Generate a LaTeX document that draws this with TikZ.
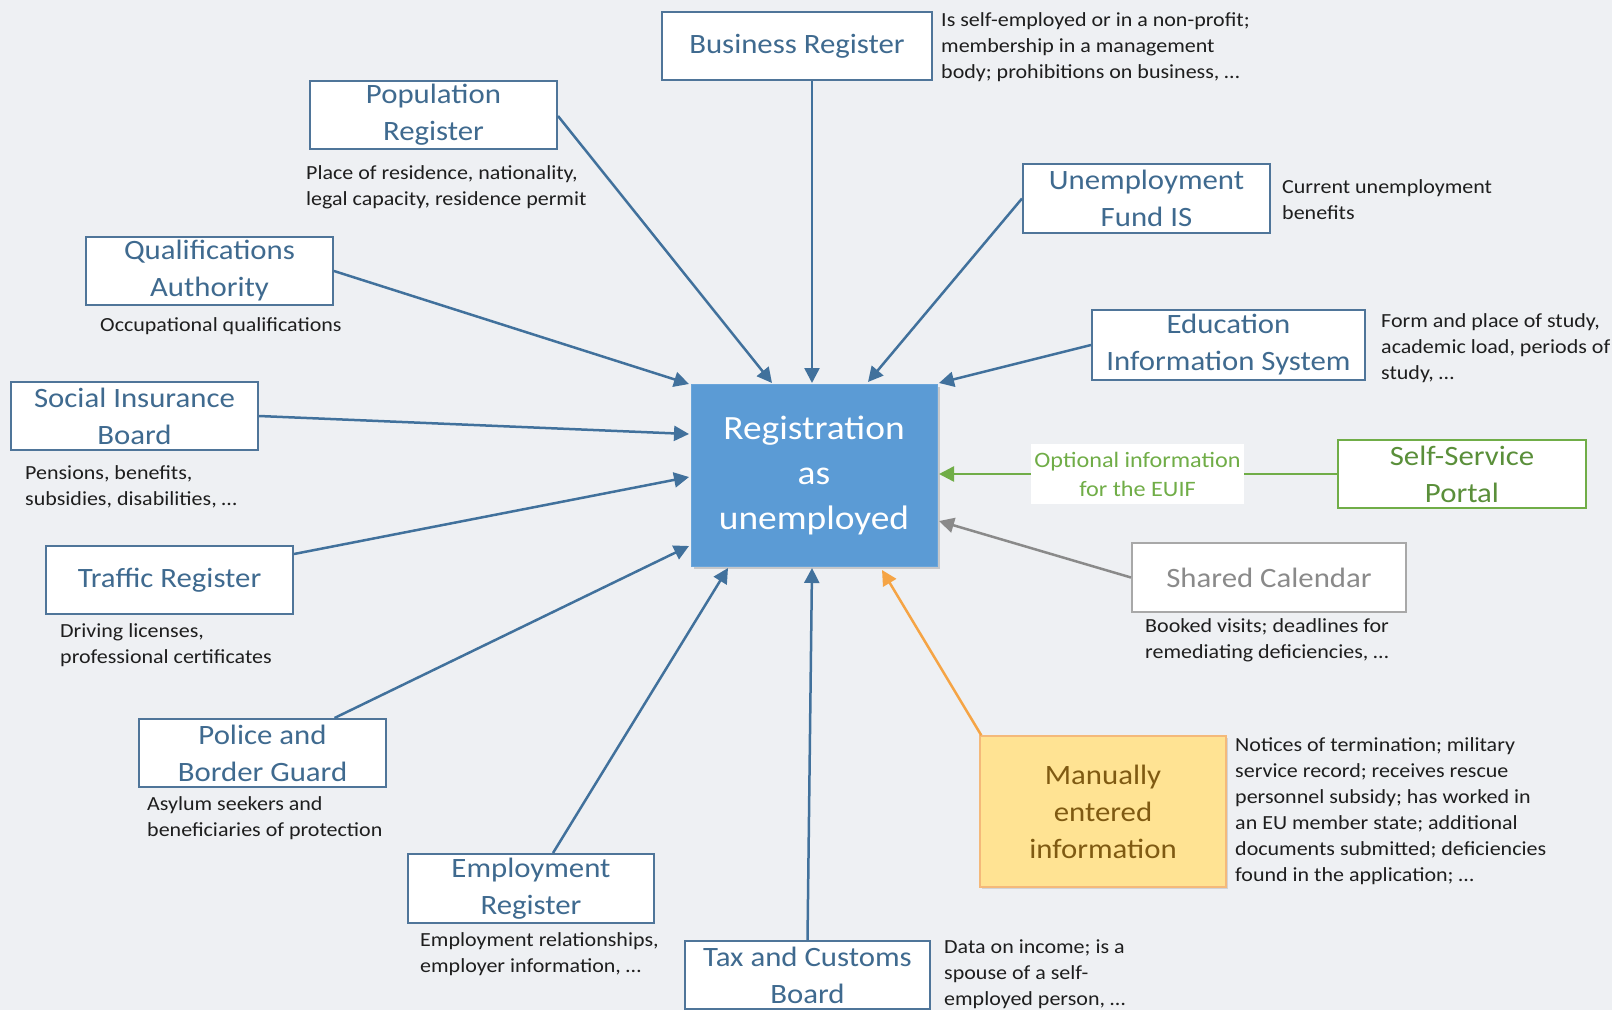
\documentclass[tikz,border=0pt]{standalone}
\usepackage{fontspec}
\setmainfont[FakeStretch=1.1]{Carlito}
\usetikzlibrary{arrows.meta,shadows}
\definecolor{bg}{HTML}{EEF0F3}
\definecolor{bxline}{HTML}{4F7599}
\definecolor{bxtext}{HTML}{3F6A8F}
\definecolor{conn}{HTML}{41719C}
\definecolor{cfill}{HTML}{5B9BD5}
\definecolor{cline}{HTML}{6AA5DA}
\definecolor{gline}{HTML}{70AD47}
\definecolor{gtext}{HTML}{5A8F3A}
\definecolor{gray1}{HTML}{8A8A8A}
\definecolor{gray2}{HTML}{A8A8A8}
\definecolor{oline}{HTML}{F5A445}
\definecolor{yfill}{HTML}{FFE393}
\definecolor{yline}{HTML}{F4B97A}
\definecolor{ytext}{HTML}{7F5A12}
\definecolor{dtext}{HTML}{1E1E1E}
\tikzset{
  srcbox/.style={draw=bxline, line width=2pt, fill=white, text=bxtext, align=center,
    inner sep=0pt, font=\fontsize{28}{37}\selectfont},
  desc/.style={anchor=north west, align=left, inner sep=0pt, text=dtext,
    font=\fontsize{20}{26}\selectfont},
  conarrow/.style={draw=conn, line width=2.5pt, -{Triangle[length=15pt,width=15pt]}},
}
\begin{document}
\begin{tikzpicture}[x=1pt,y=-1pt]
\useasboundingbox (0,0) rectangle (1612,1010);
\fill[bg] (0,0) rectangle (1612,1010);

% center
\node[draw=cline, line width=1pt, fill=cfill, text=white, align=center, inner sep=0pt,
  minimum width=246pt, minimum height=182pt, font=\fontsize{34}{45}\selectfont,
  drop shadow={shadow xshift=3pt, shadow yshift=-3pt, opacity=0.35}]
  (c) at (814,475) {Registration\\as\\unemployed};

% source boxes
\node[srcbox, minimum width=270pt, minimum height=68pt] (bus) at (797,46) {Business Register};
\node[srcbox, minimum width=247pt, minimum height=68pt] (pop) at (433.5,115) {Population\\Register};
\node[srcbox, minimum width=247pt, minimum height=68pt] (qua) at (209.5,271) {Qualifications\\Authority};
\node[srcbox, minimum width=247pt, minimum height=68pt] (soc) at (134.5,416) {Social Insurance\\Board};
\node[srcbox, minimum width=247pt, minimum height=68pt] (tra) at (169.5,580) {Traffic Register};
\node[srcbox, minimum width=247pt, minimum height=68pt] (pol) at (262.5,753) {Police and\\Border Guard};
\node[srcbox, minimum width=246pt, minimum height=69pt] (emp) at (531,888.5) {Employment\\Register};
\node[srcbox, minimum width=245pt, minimum height=68pt] (tax) at (807.5,975) {Tax and Customs\\Board};
\node[srcbox, minimum width=247pt, minimum height=69pt] (une) at (1146.5,198.5) {Unemployment\\Fund IS};
\node[srcbox, minimum width=273pt, minimum height=70pt] (edu) at (1228.5,345) {Education\\Information System};
\node[srcbox, draw=gline, text=gtext, minimum width=248pt, minimum height=68pt] (ssp) at (1462,474) {Self-Service\\Portal};
\node[srcbox, draw=gray2, text=gray1, minimum width=274pt, minimum height=69pt] (cal) at (1269,577.5) {Shared Calendar};
\node[srcbox, draw=yline, fill=yfill, text=ytext, line width=1.5pt, minimum width=246pt, minimum height=151pt,
  drop shadow={shadow xshift=2pt, shadow yshift=-2pt, opacity=0.25}] (man) at (1103,811.5) {Manually\\entered\\information};

% descriptions
\node[desc] (dbus) at (941,12) {Is self-employed or in a non-profit;\\membership in a management\\body; prohibitions on business, \dots};
\node[desc] (dpop) at (306,165) {Place of residence, nationality,\\legal capacity, residence permit};
\node[desc] (dqua) at (100,317) {Occupational qualifications};
\node[desc] (dsoc) at (25,465) {Pensions, benefits,\\subsidies, disabilities, \dots};
\node[desc] (dtra) at (60,623) {Driving licenses,\\professional certificates};
\node[desc] (dpol) at (147,796) {Asylum seekers and\\beneficiaries of protection};
\node[desc] (demp) at (420,932) {Employment relationships,\\employer information, \dots};
\node[desc] (dtax) at (944,940) {Data on income; is a\\spouse of a self-\\employed person, \dots};
\node[desc] (dman) at (1235,737) {Notices of termination; military\\service record; receives rescue\\personnel subsidy; has worked in\\an EU member state; additional\\documents submitted; deficiencies\\found in the application; \dots};
\node[desc] (dcal) at (1145,618) {Booked visits; deadlines for\\remediating deficiencies, \dots};
\node[desc] (dedu) at (1381,313) {Form and place of study,\\academic load, periods of\\study, \dots};
\node[desc] (dune) at (1282,179) {Current unemployment\\benefits};

% connector end points (at the edge of the central box)
\coordinate (tbus) at (812,383);
\coordinate (tpop) at (772,383);
\coordinate (tqua) at (689,384);
\coordinate (tsoc) at (689,434);
\coordinate (ttra) at (689,477);
\coordinate (tpol) at (689,546);
\coordinate (temp) at (728,568);
\coordinate (ttax) at (812,568);
\coordinate (tman) at (882,570);
\coordinate (tcal) at (939,521);
\coordinate (tssp) at (939,474);
\coordinate (tedu) at (939,383);
\coordinate (tune) at (868,382);

\draw[conarrow] (bus.south -| tbus) -- (tbus);
\draw[conarrow] (pop.east) ++(0,1) -- (tpop);
\draw[conarrow] (qua.east) -- (tqua);
\draw[conarrow] (soc.east) -- (tsoc);
\draw[conarrow] (tra.north east) ++(0,9) -- (ttra);
\draw[conarrow] (pol.north) ++(72,0) -- (tpol);
\draw[conarrow] (emp.north) ++(22,0) -- (temp);
\draw[conarrow] (tax.north) -- (ttax);
\draw[conarrow, draw=oline] (man.north west) ++(2,0) -- (tman);
\draw[conarrow, draw=gray1] (cal.west) -- (tcal);
\draw[conarrow, draw=gline] (ssp.west) -- (tssp);
\draw[conarrow] (edu.west) -- (tedu);
\draw[conarrow] (une.west) -- (tune);

\node[fill=white, text=gline, align=center, inner sep=0pt, minimum width=213pt, minimum height=60pt,
  font=\fontsize{22}{29}\selectfont] (opt) at (1137.5,474) {Optional information\\for the EUIF};
\end{tikzpicture}
\end{document}
